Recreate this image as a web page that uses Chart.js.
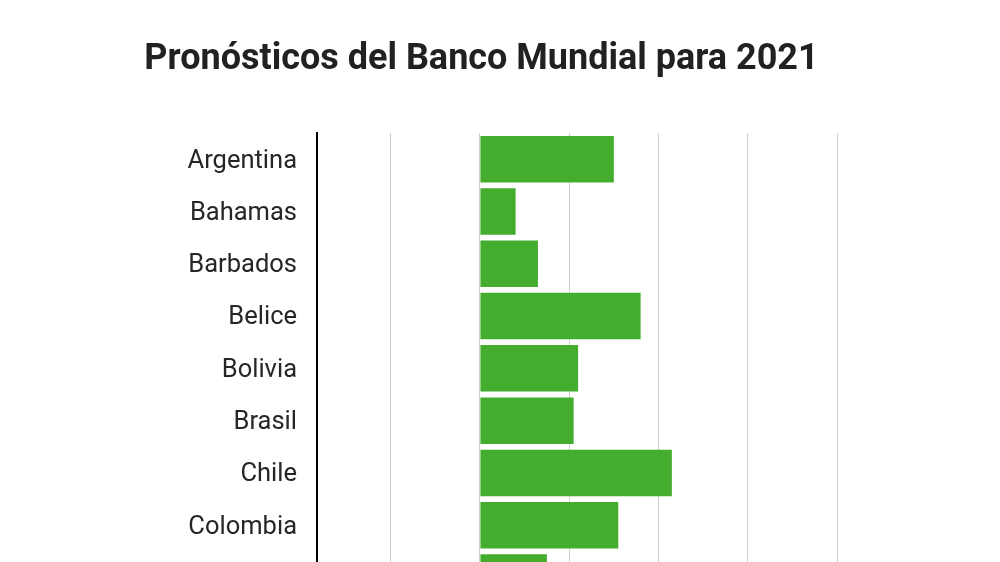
<!DOCTYPE html>
<html lang="es">
<head>
<meta charset="utf-8">
<title>Pronósticos del Banco Mundial para 2021</title>
<script src="https://cdn.jsdelivr.net/npm/chart.js@4"></script>
<style>
    html, body { margin: 0; padding: 0; background: #fff; overflow: hidden; }
    #wrap { position: relative; width: 1000px; height: 639px; }
</style>
</head>
<body>
<div id="wrap"><canvas id="myChart"></canvas></div>
<script>
// Data (chart is cut off at the bottom of the picture)
const paises = [
    "Argentina",
    "Bahamas",
    "Barbados",
    "Belice",
    "Bolivia",
    "Brasil",
    "Chile",
    "Colombia",
    "Costa Rica",
];
const pronostico2021 = [3.0, 0.8, 1.3, 3.6, 2.2, 2.1, 4.3, 3.1, 1.5];
const ejeMin = -3.65;
const ejeMax = 8;
const ejePaso = 2;

(() => {
    "use strict";

    const ctx = document.getElementById("myChart");
    // eslint-disable-next-line no-unused-vars
    const myChart = new Chart(ctx, {
        type: "bar",
        data: {
            labels: paises,
            datasets: [
                {
                    data: pronostico2021,
                    backgroundColor: "#45ad2d",
                    borderWidth: 0,
                    categoryPercentage: 1,
                    barPercentage: 0.89,
                },
            ],
        },
        options: {
            indexAxis: "y",
            responsive: true,
            maintainAspectRatio: false,
            animation: false,
            layout: {
                padding: { left: 126, right: 163, top: 0, bottom: 15 },
            },
            plugins: {
                legend: { display: false },
                tooltip: { enabled: false },
                title: {
                    display: true,
                    text: "Pronósticos del Banco Mundial para 2021",
                    color: "#212121",
                    font: { family: "Roboto", size: 36, weight: "bold" },
                    padding: { top: 38.5, bottom: 51.3 },
                },
            },
            scales: {
                x: {
                    min: ejeMin,
                    max: ejeMax,
                    ticks: { display: false, stepSize: ejePaso },
                    grid: { color: "#cfcfcf", lineWidth: 1, drawTicks: false },
                    border: { display: false },
                },
                y: {
                    grid: { display: false, drawTicks: false },
                    border: { display: true, color: "#000", width: 2 },
                    ticks: {
                        color: "#262626",
                        padding: 20,
                        labelOffset: 2,
                        font: { family: "Roboto", size: 25.5 },
                    },
                    afterFit(scale) {
                        scale.width = 191; // pin the plot's left edge
                    },
                },
            },
        },
    });
})();
</script>
</body>
</html>
